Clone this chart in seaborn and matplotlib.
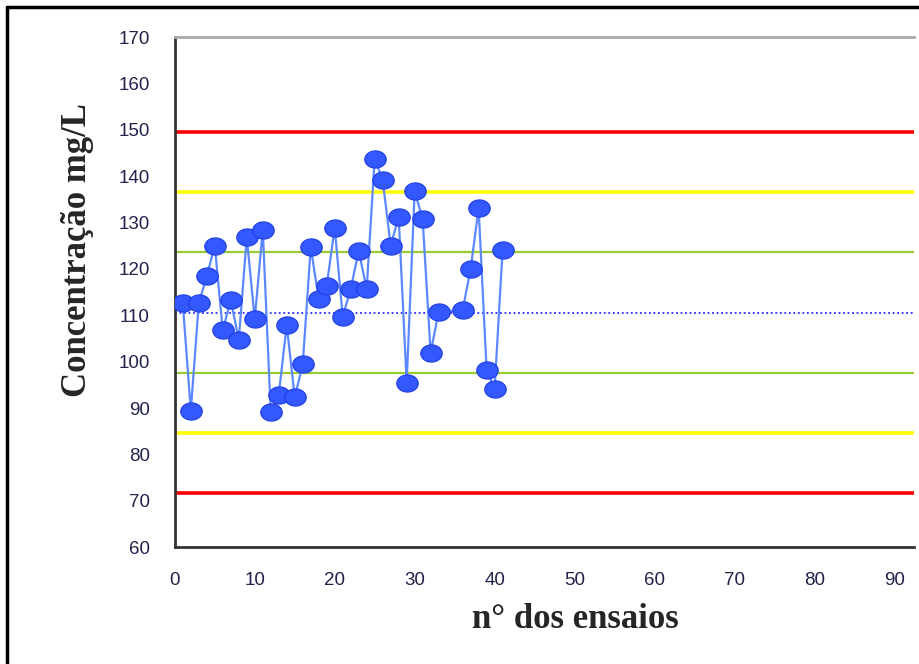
import numpy as np
import pandas as pd
import matplotlib
matplotlib.use('Agg')
import matplotlib.pyplot as plt
import seaborn as sns
from matplotlib.lines import Line2D
from matplotlib.path import Path

# --- data ---
ensaio = list(range(1, 34)) + list(range(36, 42))
concentracao = [112.6, 89.4, 112.6, 118.5, 125.0, 106.8, 113.3, 104.7, 126.8, 109.2,
                128.5, 89.1, 92.9, 107.9, 92.3, 99.4, 124.7, 113.5, 116.4, 128.9,
                109.7, 115.7, 123.9, 115.7, 143.8, 139.2, 125.0, 131.3, 95.5, 136.8,
                130.7, 101.9, 110.8, 111.1, 120.0, 133.1, 98.2, 94.1, 124.2]

media = 110.6
limites_1s = [123.6, 97.6]   # green
limites_2s = [136.6, 84.6]   # yellow
limites_3s = [149.6, 71.6]   # red

df = pd.DataFrame({'ensaio': ensaio, 'conc': concentracao})

sns.set_theme(style='white')
plt.rcParams['font.family'] = ['Liberation Sans', 'DejaVu Sans']

fig = plt.figure(figsize=(9.2, 6.64), dpi=100)
ax = fig.add_axes([0.190, 0.176, 0.803, 0.768])

# control lines
for v in limites_3s:
    ax.axhline(v, color='#ff0000', lw=2.6, zorder=1)
for v in limites_2s:
    ax.axhline(v, color='#ffff00', lw=2.6, zorder=1)
for v in limites_1s:
    ax.axhline(v, color='#99cc33', lw=1.6, zorder=1)
ax.axhline(media, color='#2a2aff', lw=1.3, ls=(0, (1, 1.5)), zorder=1)

# slightly wide ellipse marker
t = np.linspace(0, 2 * np.pi, 40)
elipse = Path(np.column_stack([np.cos(t), 0.8 * np.sin(t)]), closed=True)

sns.lineplot(data=df, x='ensaio', y='conc', ax=ax, color='#5c88ff', lw=1.6,
             sort=False, zorder=2)
sns.scatterplot(data=df, x='ensaio', y='conc', ax=ax, marker=elipse, s=240,
                color='#3358ff', edgecolor='#1d3ce0', linewidth=0.8, zorder=3)

ax.set_xlim(0, 92.4)
ax.set_ylim(60, 170)
ax.set_xticks(range(0, 100, 10))
ax.set_yticks(range(60, 180, 10))
ax.tick_params(axis='both', length=0, labelsize=13.5, colors='#22224a', pad=18)

for s in ['left', 'bottom']:
    ax.spines[s].set_color('#333333')
    ax.spines[s].set_linewidth(2)
ax.spines['top'].set_color('#aaaaaa')
ax.spines['top'].set_linewidth(2)
ax.spines['right'].set_visible(False)

ax.set_xlabel('n° dos ensaios', fontsize=25, fontweight='bold',
              family=['Liberation Serif', 'DejaVu Serif'])
ax.set_ylabel('Concentração mg/L', fontsize=25, fontweight='bold',
              family=['Liberation Serif', 'DejaVu Serif'])
ax.xaxis.set_label_coords(0.542, -0.11)
ax.yaxis.set_label_coords(-0.11, 0.582)

# outer frame (left and top visible)
fig.add_artist(Line2D([7 / 920, 7 / 920], [0, 1 - 7 / 664], color='black', lw=2.5,
                      transform=fig.transFigure))
fig.add_artist(Line2D([7 / 920, 1], [1 - 7 / 664, 1 - 7 / 664], color='black', lw=2.5,
                      transform=fig.transFigure))

fig.savefig('out.png', dpi=100)
